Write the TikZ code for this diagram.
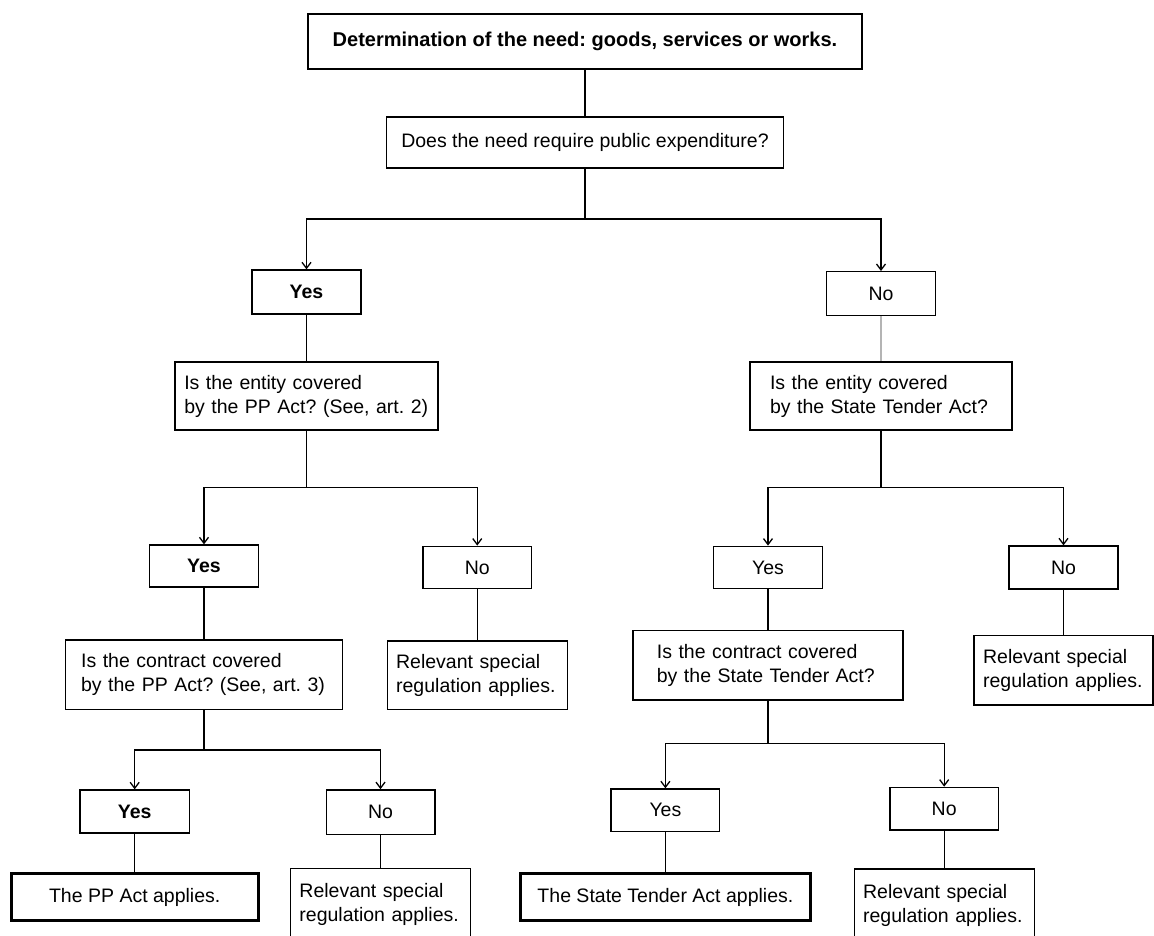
\documentclass[tikz,border=0pt]{standalone}
\usepackage{fontspec}
\setmainfont{Liberation Sans}
\usetikzlibrary{arrows.meta}
\frenchspacing
\tikzset{
  box/.style={draw, line width=1.3pt, inner sep=0pt, align=center,
              font=\fontsize{19.5}{24}\selectfont},
  bbox/.style={box, font=\bfseries\fontsize{19.5}{24}\selectfont},
  lbox/.style={box, align=left},
  finalbox/.style={box, line width=3pt},
  conn/.style={line width=1.3pt},
  arr/.style={conn, -{Straight Barb[length=6pt,width=9pt,line width=1.3pt]}},
}
\begin{document}
\frenchspacing
\begin{tikzpicture}[x=1pt,y=-1pt]
\useasboundingbox (0,0) rectangle (1154,936);
\fill[white] (0,0) rectangle (1154,936);

% level 0
\node[box, font=\bfseries\fontsize{20}{24}\selectfont, minimum width=554pt, minimum height=55pt] (top) at (585,41.5) {Determination of the need: goods, services or works.};
\node[box, minimum width=396.6pt, minimum height=51pt] (does) at (585,142.5) {Does the need require public expenditure?};

% level 1
\node[bbox, minimum width=109pt, minimum height=44pt] (yes1) at (306.5,292) {Yes};
\node[box, minimum width=109pt, minimum height=44pt] (no1) at (881,293.7) {No};
\node[lbox, inner xsep=9.3pt, text width=244.4pt, minimum height=68pt] (ent1) at (306.5,396) {\mbox{Is the entity covered}\\\mbox{by the PP Act? (See, art. 2)}};
\node[lbox, inner xsep=20pt, text width=222pt, minimum height=68pt] (ent2) at (881,396) {\mbox{Is the entity covered}\\\mbox{by the State Tender Act?}};

% level 2
\node[bbox, minimum width=108.4pt, minimum height=42pt] (yes2) at (204,566) {Yes};
\node[box, minimum width=108.7pt, minimum height=42.4pt] (no2) at (477.25,567.5) {No};
\node[box, minimum width=108.7pt, minimum height=42.4pt] (yes3) at (768,567.5) {Yes};
\node[box, minimum width=109pt, minimum height=43pt] (no3) at (1063.5,567.5) {No};

\node[lbox, inner xsep=15.9pt, text width=245.7pt, minimum height=69.3pt] (con1) at (204,674.7) {\mbox{Is the contract covered}\\\mbox{by the PP Act? (See, art. 3)}};
\node[lbox, inner xsep=9pt, text width=162.2pt, minimum height=68.3pt] (rel1) at (477.25,675.2) {\mbox{Relevant special}\\\mbox{regulation applies.}};
\node[lbox, inner xsep=24pt, text width=222.2pt, minimum height=69.3pt] (con2) at (768,665.4) {\mbox{Is the contract covered}\\\mbox{by the State Tender Act?}};
\node[lbox, inner xsep=9pt, text width=160.8pt, minimum height=69.7pt] (rel2) at (1063.5,670.2) {\mbox{Relevant special}\\\mbox{regulation applies.}};

% level 3
\node[bbox, minimum width=109.4pt, minimum height=43pt] (yes4) at (134.7,811.5) {Yes};
\node[box, minimum width=108.7pt, minimum height=44.3pt] (no4) at (380.5,812) {No};
\node[box, minimum width=108.8pt, minimum height=42.7pt] (yes5) at (665.4,810.3) {Yes};
\node[box, minimum width=108.3pt, minimum height=42.7pt] (no5) at (944.2,808.7) {No};

\node[finalbox, minimum width=247pt, minimum height=46.7pt] (pp) at (134.7,897.3) {The PP Act applies.};
\node[lbox, inner xsep=9pt, text width=162.1pt, minimum height=72pt] (rel3) at (380.5,904.7) {\mbox{Relevant special}\\\mbox{regulation applies.}};
\node[finalbox, minimum width=290.6pt, minimum height=46.7pt] (st) at (665.4,897.3) {The State Tender Act applies.};
\node[lbox, inner xsep=9pt, text width=162.1pt, minimum height=72pt] (rel4) at (944.2,905) {\mbox{Relevant special}\\\mbox{regulation applies.}};

% junctions
\coordinate (j1) at (585,219);
\coordinate (j2) at (306.5,487.7);
\coordinate (j3) at (881,487.7);
\coordinate (j4) at (204,750);
\coordinate (j5) at (768,743.3);

% connectors
\draw[conn] (top) -- (does);
\draw[conn] (does) -- (j1);
\draw[arr] (j1) -| (yes1);
\draw[arr] (j1) -| (no1);
\draw[conn] (yes1) -- (ent1);
\draw[conn, draw={rgb,255:red,180;green,180;blue,180}] (no1) -- (ent2);

\draw[conn] (ent1) -- (j2);
\draw[arr] (j2) -| (yes2);
\draw[arr] (j2) -| (no2);
\draw[conn] (ent2) -- (j3);
\draw[arr] (j3) -| (yes3);
\draw[arr] (j3) -| (no3);

\draw[conn] (yes2) -- (con1);
\draw[conn] (no2) -- (rel1);
\draw[conn] (yes3) -- (con2);
\draw[conn] (no3) -- (rel2);

\draw[conn] (con1) -- (j4);
\draw[arr] (j4) -| (yes4);
\draw[arr] (j4) -| (no4);
\draw[conn] (con2) -- (j5);
\draw[arr] (j5) -| (yes5);
\draw[arr] (j5) -| (no5);

\draw[conn] (yes4) -- (pp);
\draw[conn] (no4) -- (rel3);
\draw[conn] (yes5) -- (st);
\draw[conn] (no5) -- (rel4);
\end{tikzpicture}
\end{document}
